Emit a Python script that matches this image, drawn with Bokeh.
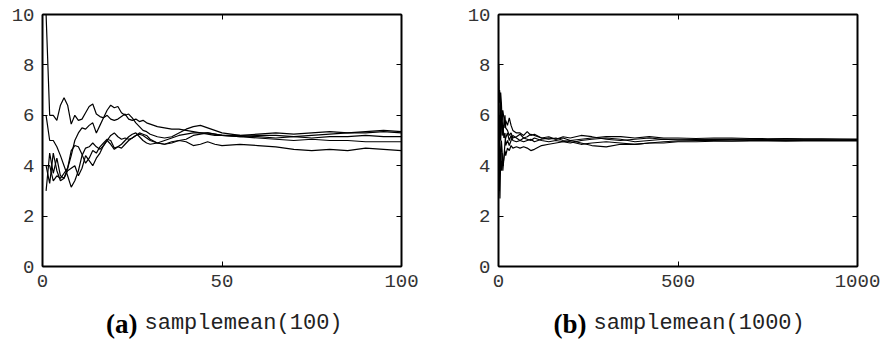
from bokeh.plotting import figure
from bokeh.layouts import row, column
from bokeh.models import Range1d, LinearAxis, FixedTicker
from bokeh.core.properties import value
from bokeh.embed import file_html
from bokeh.resources import INLINE

# ---------------- data ----------------
LEFT_X = list(range(1, 31)) + [32, 34, 36, 38, 40, 42, 44, 46, 48, 50] + \
         [55, 60, 65, 70, 75, 80, 85, 90, 95, 100]

left_s1 = [10, 6.0, 6.0, 5.8, 6.4, 6.7, 6.4, 5.65, 6.0, 5.8, 5.85, 6.1, 6.35, 6.45, 6.05,
           5.95, 5.9, 6.0, 5.85, 5.8, 5.85, 5.95, 6.05, 5.85, 5.8, 5.85, 5.75, 5.8, 5.7, 5.65,
           5.55, 5.5, 5.45, 5.45, 5.4, 5.35, 5.3, 5.3, 5.25, 5.2,
           5.2, 5.25, 5.3, 5.25, 5.3, 5.35, 5.3, 5.35, 5.4, 5.35]
left_s2 = [6.0, 5.0, 5.0, 4.75, 4.4, 4.0, 3.6, 3.15, 3.4, 3.8, 4.4, 4.7, 4.75, 4.9, 4.75,
           4.65, 4.8, 5.0, 5.2, 5.3, 5.15, 5.05, 5.1, 5.05, 5.1, 5.2, 5.3, 5.25, 5.2, 5.05,
           4.9, 4.85, 4.9, 5.0, 5.05, 5.2, 5.25, 5.3, 5.25, 5.2,
           5.15, 5.1, 5.05, 5.0, 5.05, 5.0, 5.0, 4.95, 4.95, 4.95]
left_s3 = [4.0, 4.0, 3.4, 3.6, 3.5, 3.7, 3.9, 4.4, 5.0, 5.3, 5.5, 5.45, 5.6, 5.7, 5.3,
           5.6, 5.9, 6.2, 6.4, 6.3, 6.35, 6.1, 6.0, 6.05, 5.9, 5.7, 5.55, 5.4, 5.35, 5.25,
           5.15, 5.1, 5.15, 5.3, 5.45, 5.55, 5.6, 5.5, 5.4, 5.3,
           5.2, 5.15, 5.1, 5.15, 5.2, 5.25, 5.3, 5.3, 5.35, 5.3]
left_s4 = [3.0, 4.5, 3.7, 4.3, 3.6, 3.5, 3.8, 3.9, 4.0, 3.6, 3.9, 4.4, 4.2, 4.0, 4.3,
           4.5, 4.8, 5.0, 4.85, 4.65, 4.75, 4.7, 4.85, 5.0, 5.1, 5.2, 5.25, 5.2, 5.1, 5.0,
           4.9, 4.85, 4.95, 5.0, 4.95, 4.8, 4.85, 4.95, 4.85, 4.8,
           4.85, 4.8, 4.75, 4.65, 4.6, 4.65, 4.6, 4.7, 4.65, 4.6]
left_s5 = [4.0, 3.3, 4.5, 3.8, 3.4, 3.5, 3.9, 4.6, 4.8, 4.75, 4.45, 4.1, 4.3, 4.6, 4.5,
           4.75, 4.9, 5.05, 5.0, 4.7, 4.75, 4.85, 5.0, 5.15, 5.25, 5.3, 5.15, 5.0, 4.9, 4.85,
           4.9, 5.0, 5.1, 5.2, 5.25, 5.3, 5.3, 5.25, 5.2, 5.2,
           5.15, 5.2, 5.2, 5.15, 5.1, 5.15, 5.15, 5.2, 5.15, 5.15]

RIGHT_X = [1, 2, 3, 4, 5, 6, 8, 10, 12, 15, 18, 20, 25, 30, 35, 40, 50, 60, 70, 80, 90, 100,
           120, 140, 160, 180, 200, 230, 260, 300, 340, 380, 420, 460, 500, 550, 600, 650,
           700, 750, 800, 850, 900, 950, 1000]

right_s1 = [8, 6.5, 7.0, 6.8, 6.2, 6.9, 6.5, 5.8, 6.2, 5.9, 5.5, 5.8, 5.6, 5.9, 5.6, 5.4,
            5.3, 5.3, 5.2, 5.35, 5.2, 5.25, 5.1, 5.15, 5.05, 5.1, 5.0, 5.05, 5.1, 5.15, 5.15,
            5.1, 5.15, 5.1, 5.1, 5.08, 5.1, 5.1, 5.08, 5.07, 5.08, 5.07, 5.07, 5.06, 5.06]
right_s2 = [3, 4.5, 3.2, 2.7, 3.5, 4.2, 3.8, 4.5, 4.0, 4.3, 4.6, 4.4, 4.7, 4.6, 4.8, 4.7,
            4.75, 4.7, 4.75, 4.7, 4.6, 4.65, 4.8, 4.85, 4.9, 4.95, 5.0, 4.9, 4.8, 4.75, 4.85,
            4.85, 4.9, 4.9, 4.95, 4.95, 4.97, 4.97, 4.98, 4.98, 4.97, 4.98, 4.99, 4.98, 4.98]
right_s3 = [5, 6.0, 4.5, 5.5, 6.4, 5.0, 5.6, 6.0, 5.2, 5.7, 6.0, 5.5, 5.4, 5.2, 5.3, 5.1,
            5.15, 5.25, 5.1, 5.05, 5.0, 5.1, 5.0, 4.95, 5.0, 4.95, 4.9, 5.0, 5.05, 5.1, 5.05,
            4.95, 5.0, 5.05, 5.02, 5.03, 5.05, 5.04, 5.03, 5.04, 5.02, 5.03, 5.03, 5.02, 5.02]
right_s4 = [6, 4.0, 5.0, 4.5, 3.8, 4.3, 5.0, 4.6, 3.8, 4.3, 4.9, 5.1, 5.3, 5.0, 5.2, 5.0,
            4.95, 5.0, 5.1, 5.15, 5.25, 5.2, 5.1, 5.05, 5.1, 5.0, 4.95, 4.85, 4.9, 4.95, 4.9,
            4.85, 4.9, 4.95, 4.98, 5.0, 5.0, 4.99, 5.0, 5.01, 5.0, 5.01, 5.0, 5.01, 5.0]
right_s5 = [7, 5.5, 6.0, 5.0, 5.5, 6.5, 6.0, 5.2, 5.6, 5.1, 5.3, 4.8, 5.0, 4.8, 5.0, 5.2,
            5.1, 5.0, 4.95, 5.0, 5.05, 4.95, 5.05, 5.1, 5.05, 5.15, 5.1, 5.2, 5.15, 5.05, 5.0,
            5.05, 5.1, 5.05, 5.05, 5.04, 5.05, 5.06, 5.05, 5.05, 5.06, 5.05, 5.05, 5.05, 5.04]

Y_TICKS = [0, 2, 4, 6, 8, 10]
LEFT_X_TICKS = [0, 50, 100]
RIGHT_X_TICKS = [0, 500, 1000]
CAPTION_BOLD = ["(a)", "(b)"]
CAPTION_MONO = ["samplemean(100)", "samplemean(1000)"]

TICK_FONT = "Liberation Mono"


def style_axis(ax, ticks, labelled):
    if labelled:
        ax.ticker = FixedTicker(ticks=ticks)
        ax.major_tick_in = 5
        ax.major_tick_out = 0
        ax.major_tick_line_color = "black"
        ax.minor_tick_line_color = None
        ax.major_label_text_font = TICK_FONT
        ax.major_label_text_font_size = "19px"
        ax.major_label_text_color = "#333333"
        ax.major_label_standoff = 8
    else:
        # tick marks only, no labels (drawn as minor ticks)
        ax.ticker = FixedTicker(ticks=[], minor_ticks=ticks)
        ax.major_tick_line_color = None
        ax.minor_tick_in = 5
        ax.minor_tick_out = 0
        ax.minor_tick_line_color = "black"
    ax.axis_line_color = "black"
    ax.axis_line_width = 2


def make_panel(xs, series, xmax, xticks, border_left, border_right):
    p = figure(frame_width=359, frame_height=252,
               min_border_left=border_left, min_border_right=border_right,
               min_border_top=14, min_border_bottom=40,
               x_range=Range1d(0, xmax), y_range=Range1d(0, 10),
               output_backend="svg", toolbar_location=None,
               x_axis_location=None, y_axis_location=None)
    p.grid.visible = False
    p.outline_line_color = "black"
    p.outline_line_width = 1
    p.background_fill_color = "white"
    p.border_fill_color = "white"

    xb = LinearAxis(); style_axis(xb, xticks, True); p.add_layout(xb, "below")
    yl = LinearAxis(); style_axis(yl, Y_TICKS, True); p.add_layout(yl, "left")
    xa = LinearAxis(); style_axis(xa, xticks, False); p.add_layout(xa, "above")
    yr = LinearAxis(); style_axis(yr, Y_TICKS, False); p.add_layout(yr, "right")

    for ys in series:
        p.line(xs, ys, line_color="black", line_width=1.2)
    return p


p1 = make_panel(LEFT_X, [left_s1, left_s2, left_s3, left_s4, left_s5], 100,
                LEFT_X_TICKS, 42, 47)
p2 = make_panel(RIGHT_X, [right_s1, right_s2, right_s3, right_s4, right_s5], 1000,
                RIGHT_X_TICKS, 50, 24)

# caption strip (pixel-like coordinates)
cap = figure(frame_width=882, frame_height=36, x_range=Range1d(0, 882),
             y_range=Range1d(0, 36), min_border=0, output_backend="svg",
             toolbar_location=None, x_axis_location=None, y_axis_location=None)
cap.grid.visible = False
cap.outline_line_color = None
cap.text(x=[137, 586], y=[19, 19], text=CAPTION_BOLD, text_align="right",
         text_baseline="middle", text_font=value("Liberation Serif"),
         text_font_style="bold", text_font_size="27px", text_color="black")
cap.text(x=[144, 593], y=[19, 19], text=CAPTION_MONO, text_align="left",
         text_baseline="middle", text_font=value("Liberation Mono"),
         text_font_size="22px", text_color="#222222")

layout = column(row(p1, p2), cap)
open("out.html", "w").write(file_html(layout, INLINE))
